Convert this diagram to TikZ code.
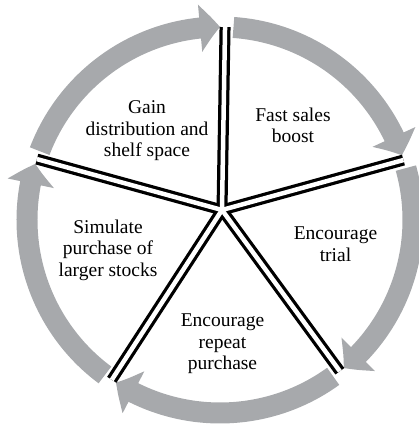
\documentclass[tikz,border=0pt]{standalone}
\usepackage{fontspec}
\setmainfont{Liberation Serif}
\usepackage{tikz}
\usetikzlibrary{calc,arrows.meta,bending}
\definecolor{ringgray}{RGB}{167,169,172}
\tikzset{
  font={\fontsize{19.5pt}{21.5pt}\selectfont},
  ring/.style={draw=ringgray, line width=21pt, -{Triangle[width=46pt,length=20pt,bend]}, color=ringgray},
  spokeout/.style={draw=black, line width=11pt},
  spokein/.style={draw=white, line width=4.5pt},
  stagetext/.style={align=center}}

\begin{document}
\begin{tikzpicture}[x=1pt,y=1pt]
\tikzstyle{every node}+=[inner sep=0pt]
\useasboundingbox (0,0) rectangle (419,426);
\coordinate (ctr) at (220,206);
\coordinate (hub) at (222,216);
\coordinate (s1) at ($(ctr)+(88.5:193)$);
\coordinate (s2) at ($(ctr)+(18.1:193)$);
\coordinate (s3) at ($(ctr)+(-51.6:193)$);
\coordinate (s4) at ($(ctr)+(-124.1:193)$);
\coordinate (s5) at ($(ctr)+(161.6:193)$);
\draw [ring] ($(ctr)+(159.1:193)$) arc [start angle=159.1, end angle=90, radius=193];
\draw [ring] ($(ctr)+(86:193)$) arc [start angle=86, end angle=19.6, radius=193];
\draw [ring] ($(ctr)+(15.6:193)$) arc [start angle=15.6, end angle=-50.1, radius=193];
\draw [ring] ($(ctr)+(-54.1:193)$) arc [start angle=-54.1, end angle=-122.6, radius=193];
\draw [ring] ($(ctr)+(-126.6:193)$) arc [start angle=-126.6, end angle=-196.9, radius=193];
\draw [spokeout] (hub) -- (s1);
\draw [spokeout] (hub) -- (s2);
\draw [spokeout] (hub) -- (s3);
\draw [spokeout] (hub) -- (s4);
\draw [spokeout] (hub) -- (s5);
\draw [spokein] (hub) -- (s1);
\draw [spokein] (hub) -- (s2);
\draw [spokein] (hub) -- (s3);
\draw [spokein] (hub) -- (s4);
\draw [spokein] (hub) -- (s5);
\node [stagetext] (gain) at (147,295) {Gain\\distribution and\\shelf space};
\node [stagetext] (boost) at (293,300.5) {Fast sales\\boost};
\node [stagetext] (trial) at (335.5,182) {Encourage\\trial};
\node [stagetext] (repeat) at (222.5,82) {Encourage\\repeat\\purchase};
\node [stagetext] (stocks) at (108,176) {Simulate\\purchase of\\larger stocks};
\end{tikzpicture}
\end{document}
